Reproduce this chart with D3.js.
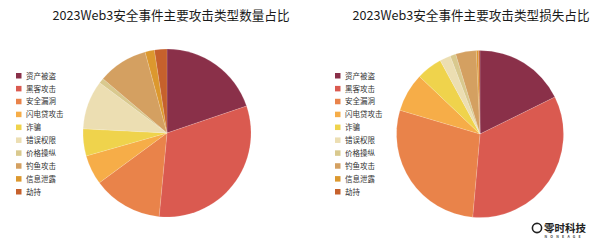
<!DOCTYPE html>
<html>
<head>
<meta charset="utf-8">
<script src="https://cdn.jsdelivr.net/npm/d3@7"></script>
<style>
  html, body { margin: 0; padding: 0; background: #ffffff; }
  svg { display: block; font-family: "Noto Sans CJK SC", "Noto Sans", sans-serif; }
</style>
</head>
<body>
<svg id="chart" width="600" height="245"></svg>
<script>
// Attack types, shared by both pies
const categories = ["资产被盗", "黑客攻击", "安全漏洞", "闪电贷攻击", "诈骗", "错误权限", "价格操纵", "钓鱼攻击", "信息泄露", "劫持"];
// Share of incidents by attack type (%)
const countShare = [19.8, 31.7, 13.4, 5.7, 5.2, 9.4, 1.0, 9.6, 1.8, 2.4];
// Share of losses by attack type (%)
const lossShare = [17.7, 33.7, 28.2, 7.5, 5.0, 2.1, 1.1, 4.0, 0.4, 0.3];
const titles = ["2023Web3安全事件主要攻击类型数量占比", "2023Web3安全事件主要攻击类型损失占比"];
const palette = ["#8a3049", "#da5a50", "#e9834a", "#f6ad48", "#efd34c", "#ecdeb2", "#d9c98e", "#d4a061", "#dc982e", "#c6612c"];

const svg = d3.select("#chart");
const color = d3.scaleOrdinal().domain(categories).range(palette);

const panels = [
  { values: countShare, title: titles[0], cx: 167, cy: 133, r: 84, titleX: 171, legendX: 16 },
  { values: lossShare,  title: titles[1], cx: 480, cy: 134, r: 83.5, titleX: 471, legendX: 335 }
];

const pie = d3.pie().sort(null).value(d => d.v);

panels.forEach(p => {
  const g = svg.append("g");

  g.append("text")
    .attr("x", p.titleX).attr("y", 20)
    .attr("text-anchor", "middle")
    .attr("font-size", 12.6)
    .attr("fill", "#1a1a1a")
    .text(p.title);

  const data = categories.map((c, i) => ({ c, v: p.values[i] }));
  const arc = d3.arc().innerRadius(0).outerRadius(p.r);

  g.append("g")
    .attr("transform", `translate(${p.cx},${p.cy})`)
    .selectAll("path")
    .data(pie(data))
    .join("path")
      .attr("d", arc)
      .attr("fill", d => color(d.data.c))
      .attr("stroke", "rgba(255,255,255,0.35)")
      .attr("stroke-width", 0.4);

  const y = d3.scalePoint().domain(categories).range([76, 192]);
  const leg = g.append("g").selectAll("g")
    .data(categories)
    .join("g")
      .attr("transform", c => `translate(${p.legendX},${y(c)})`);
  leg.append("rect")
    .attr("x", 0).attr("y", -3).attr("width", 5.5).attr("height", 5.5)
    .attr("fill", c => color(c));
  leg.append("text")
    .attr("x", 10).attr("y", 0)
    .attr("dy", "0.35em")
    .attr("font-size", 7.5)
    .attr("fill", "#333")
    .text(c => c);
});

// Brand mark in the lower right corner
const logo = svg.append("g").attr("transform", "translate(537,228)");
logo.append("circle").attr("r", 4.6).attr("fill", "none").attr("stroke", "#222").attr("stroke-width", 1.6);
logo.append("circle").attr("cx", 1.2).attr("cy", -1.2).attr("r", 2.2).attr("fill", "#fff");
logo.append("text")
  .attr("x", 7).attr("y", 3.5)
  .attr("font-size", 10.5).attr("font-weight", 700)
  .attr("fill", "#222")
  .text("零时科技");
logo.append("text")
  .attr("x", 7.5).attr("y", 9.5)
  .attr("font-size", 3.5).attr("font-weight", 700)
  .attr("letter-spacing", 3.2)
  .attr("fill", "#444")
  .text("NONEAGE");
</script>
</body>
</html>
